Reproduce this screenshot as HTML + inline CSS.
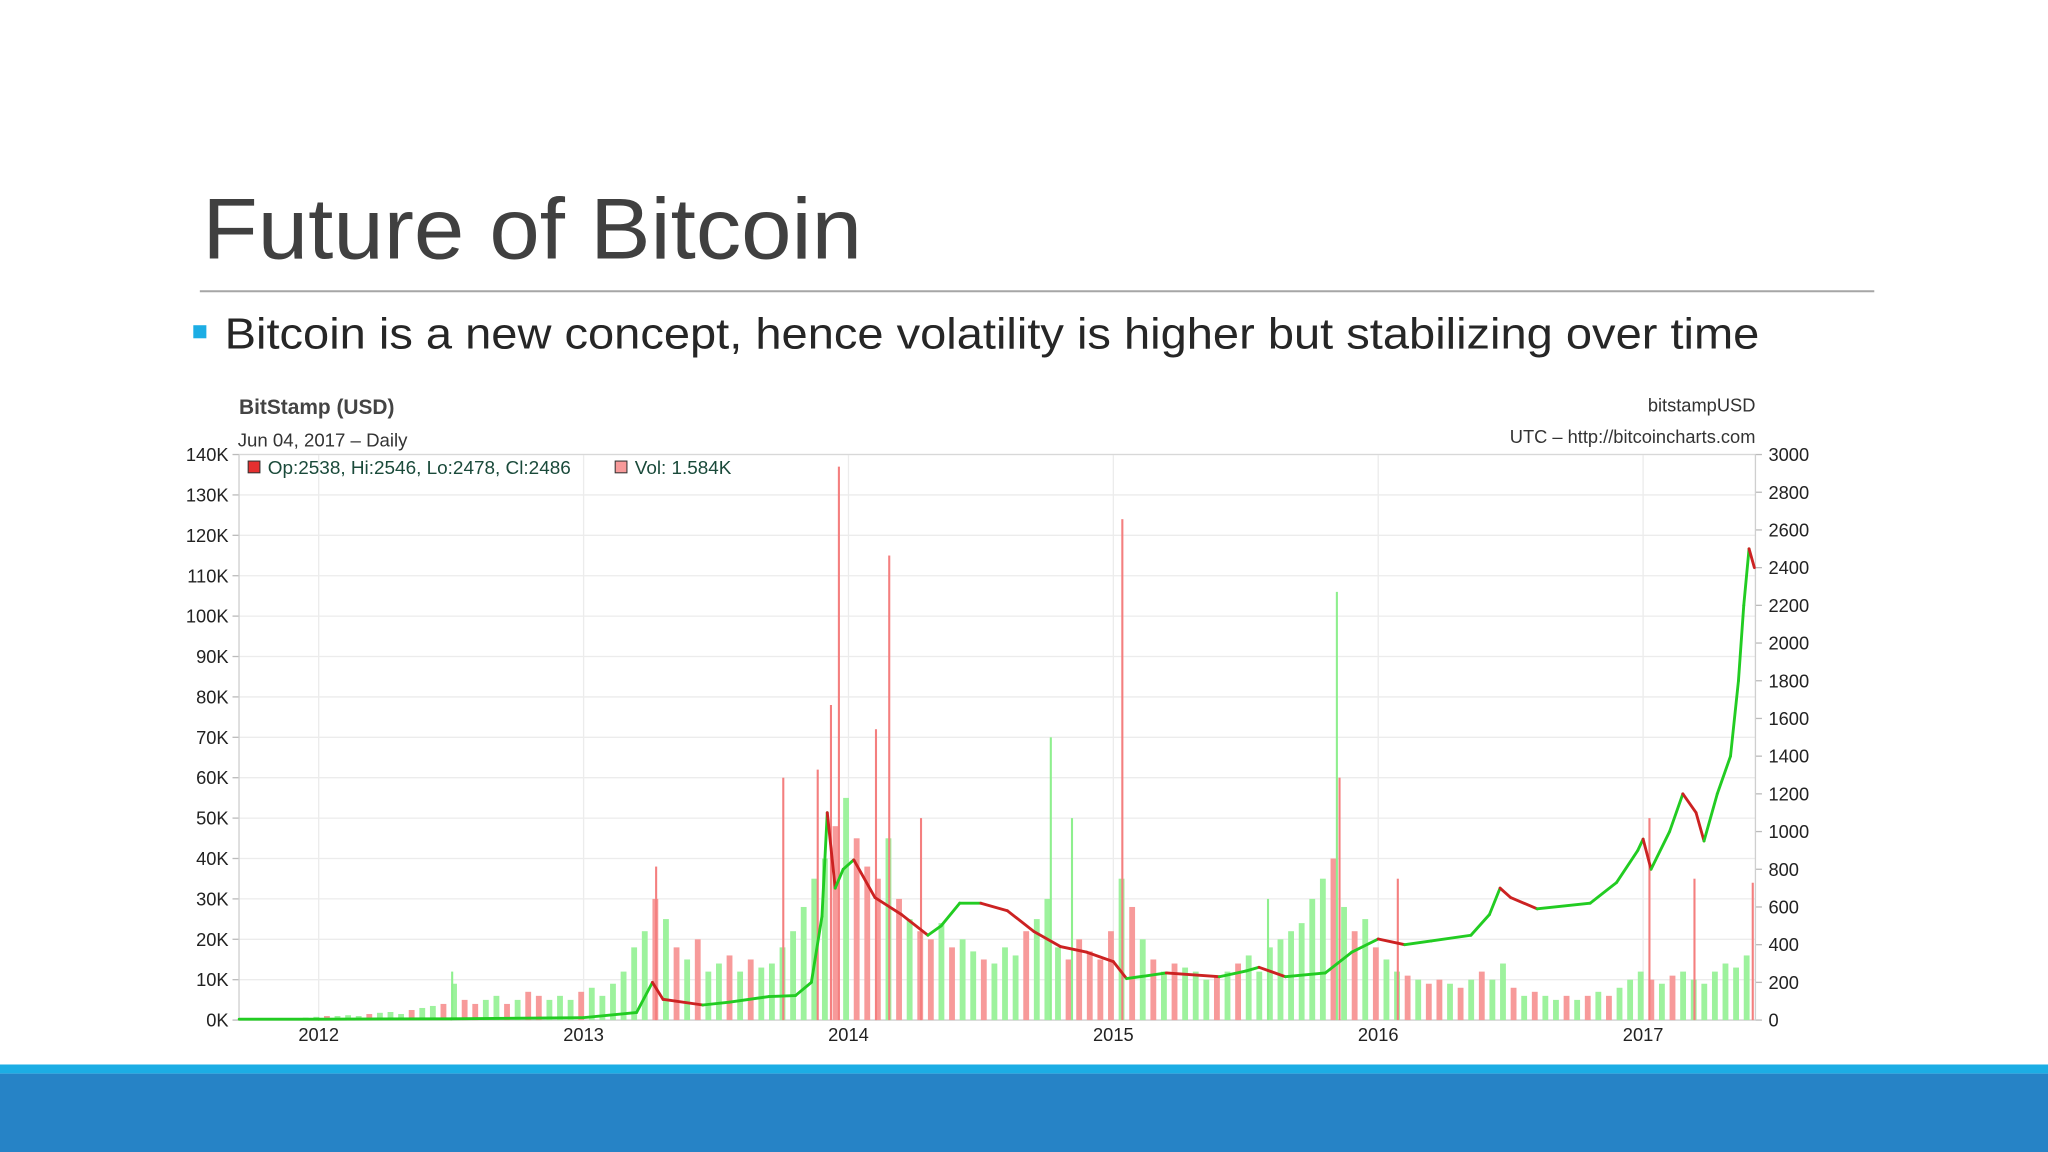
<!DOCTYPE html>
<html><head><meta charset="utf-8"><style>
html,body{margin:0;padding:0;background:#fff;}
svg{display:block;font-family:"Liberation Sans",sans-serif;}
</style></head><body>
<svg id="slide" width="2048" height="1152" viewBox="0 0 1568 882" xmlns="http://www.w3.org/2000/svg">
<rect width="1568" height="882" fill="#fff"/>
<text x="155" y="198" font-size="66" fill="#404040" textLength="505" lengthAdjust="spacingAndGlyphs">Future of Bitcoin</text>
<line x1="153" y1="223" x2="1435" y2="223" stroke="#a6a6a6" stroke-width="1.5"/>
<rect x="148" y="249" width="10" height="10" fill="#1cade4"/>
<text x="172" y="267" font-size="33" fill="#262626" textLength="1175" lengthAdjust="spacingAndGlyphs">Bitcoin is a new concept, hence volatility is higher but stabilizing over time</text>
<rect x="0" y="815" width="1568" height="7" fill="#1cade4"/>
<rect x="0" y="822" width="1568" height="60" fill="#2683c6"/>
<g id="chart"></g>
</svg>
<script>
const priceDates=[2011.7,2012.0,2012.5,2013.0,2013.2,2013.26,2013.3,2013.45,2013.55,2013.7,2013.8,2013.86,2013.9,2013.92,2013.95,2013.98,2014.02,2014.1,2014.2,2014.3,2014.35,2014.42,2014.5,2014.6,2014.7,2014.8,2014.9,2015.0,2015.05,2015.2,2015.4,2015.5,2015.55,2015.65,2015.8,2015.9,2016.0,2016.1,2016.2,2016.35,2016.42,2016.46,2016.5,2016.6,2016.8,2016.9,2016.98,2017.0,2017.03,2017.1,2017.15,2017.2,2017.23,2017.28,2017.33,2017.36,2017.38,2017.4,2017.42];
const priceVals=[5,5,7,13,40,200,110,80,95,125,130,200,550,1100,700,800,850,650,560,450,500,620,620,580,470,390,360,310,220,250,230,260,280,230,250,360,430,400,420,450,560,700,650,590,620,730,900,960,800,1000,1200,1100,950,1200,1400,1800,2200,2500,2400];
const volStart=2011.7, volStep=0.04;
const volVals=[0.5,0.4,0.3,0.5,0.4,0.3,0.6,0.8,1,1,
1.2,1,1.5,1.8,2,1.5,2.5,3,3.5,4,
9,5,4,5,6,4,5,7,6,5,
6,5,7,8,6,9,12,18,22,30,
25,18,15,20,12,14,16,12,15,13,
14,18,22,28,35,40,48,55,45,38,
35,45,30,25,22,20,24,18,20,17,
15,14,18,16,22,25,30,18,15,20,
17,15,22,35,28,20,15,12,14,13,
12,10,11,12,14,16,12,18,20,22,
24,30,35,40,28,22,25,18,15,12,
11,10,9,10,9,8,10,12,10,14,
8,6,7,6,5,6,5,6,7,6,
8,10,12,10,9,11,12,10,9,12,
14,13,16];
const volDir="rgrgrrggrgggrgggrggrgrrggrgrrgggrggggggrgrgrggrgrgggggggrgrrrgrgrrgrggrgggrgggrrrrrgrgrgrgggrgrggggggggrgrgrggrgrrgrgrggrgrggrgrgrgggrgrggggg";
const spikeDates=[2012.5,2013.27,2013.75,2013.88,2013.93,2013.96,2014.1,2014.15,2014.27,2014.76,2014.84,2015.03,2015.58,2015.84,2015.85,2016.07,2017.02,2017.19,2017.41];
const spikeVals=[12,38,60,62,78,137,72,115,50,70,50,124,30,106,60,35,50,35,34];
const spikeDir="grrrrrrrrggrggrrrrr";
const leftTicks=["0K","10K","20K","30K","40K","50K","60K","70K","80K","90K","100K","110K","120K","130K","140K"];
const rightTicks=["0","200","400","600","800","1000","1200","1400","1600","1800","2000","2200","2400","2600","2800","3000"];
const yearTicks=[2012,2013,2014,2015,2016,2017];

const L=183,R=1344,T=348,B=781;
const xT=d=>244+(d-2012)*202.8;
const yV=v=>B-(v/140)*(B-T);
const yP=p=>B-(p/3000)*(B-T);
const NS="http://www.w3.org/2000/svg";
const g=document.getElementById('chart');
function mk(tag,attrs,parent){const e=document.createElementNS(NS,tag);for(const k in attrs)e.setAttribute(k,attrs[k]);(parent||g).appendChild(e);return e;}

leftTicks.forEach((t,i)=>{const y=yV(i*10);
 const ln=mk('line',{x1:L,x2:R,y1:y,y2:y,stroke:i==0?'#cfcfcf':'#ececec','stroke-width':1});
 
 
 const tk=mk('line',{x1:L-5,x2:L,y1:y,y2:y,stroke:'#bbb'});
 
 
 const tx=mk('text',{x:L-8,y:y+5,'text-anchor':'end','font-size':14,fill:'#222'});tx.textContent=t;
 
 
});
rightTicks.forEach((t,i)=>{const y=yP(i*200);
 const tk=mk('line',{x1:R,x2:R+5,y1:y,y2:y,stroke:'#bbb'});
 
 
 const tx=mk('text',{x:R+10,y:y+5,'font-size':14,fill:'#222'});tx.textContent=t;
 
 
});
yearTicks.forEach(yr=>{const x=xT(yr);
 const ln=mk('line',{x1:x,x2:x,y1:T,y2:B,stroke:'#ececec'});
 
 
 const tx=mk('text',{x:x,y:B+16,'text-anchor':'middle','font-size':14,fill:'#222'});tx.textContent=yr;
 
 
});
const bl=mk('line',{x1:L,x2:L,y1:T,y2:B,stroke:'#cfcfcf'});


const bt=mk('line',{x1:L,x2:R,y1:T,y2:T,stroke:'#d8d8d8'});


const br=mk('line',{x1:R,x2:R,y1:T,y2:B,stroke:'#cfcfcf'});



const bw=volStep*202.8;
volVals.forEach((v,i)=>{const d=volStart+i*volStep;const x=xT(d);
 const r=mk('rect',{x:x,y:yV(v),width:bw*0.55,height:B-yV(v),fill:volDir[i]==='r'?'#f79a9a':'#9df29d'});
 
 
});
spikeVals.forEach((v,i)=>{const x=xT(spikeDates[i]);
 const r=mk('rect',{x:x,y:yV(v),width:1.6,height:B-yV(v),fill:spikeDir[i]==='r'?'#f47f7f':'#8eef8e'});
 
 
});
for(let i=1;i<priceVals.length;i++){
 const ln=mk('line',{x1:xT(priceDates[i-1]),y1:yP(priceVals[i-1]),x2:xT(priceDates[i]),y2:yP(priceVals[i]),stroke:priceVals[i]>=priceVals[i-1]?'#22cc22':'#cc2222','stroke-width':2.2,'stroke-linecap':'round'});
 
 
}
function txt(x,y,s,size,attrs,name){const t=mk('text',Object.assign({x:x,y:y,'font-size':size,fill:'#333'},attrs||{}));t.textContent=s;
 
 return t;}
txt(183,317,"BitStamp (USD)",16,{'font-weight':'bold',fill:'#444'},'chart-title');
txt(182,342,"Jun 04, 2017 – Daily",14,{textLength:130,lengthAdjust:'spacingAndGlyphs'},'chart-subtitle');
txt(1344,315,"bitstampUSD",14,{'text-anchor':'end'},'symbol-label');
txt(1344,339,"UTC – http://bitcoincharts.com",14,{'text-anchor':'end'},'source-label');
const s1=mk('rect',{x:190,y:353,width:9,height:9,fill:'#e53030',stroke:'#333','stroke-width':0.8});


txt(205,363,"Op:2538, Hi:2546, Lo:2478, Cl:2486",14,{fill:'#1a4a3a',textLength:232,lengthAdjust:'spacingAndGlyphs'},'ohlc-legend-text');
const s2=mk('rect',{x:471,y:353,width:9,height:9,fill:'#f79a9a',stroke:'#333','stroke-width':0.8});


txt(486,363,"Vol: 1.584K",14,{fill:'#1a4a3a',textLength:74,lengthAdjust:'spacingAndGlyphs'},'volume-legend-text');
</script>
</body></html>
